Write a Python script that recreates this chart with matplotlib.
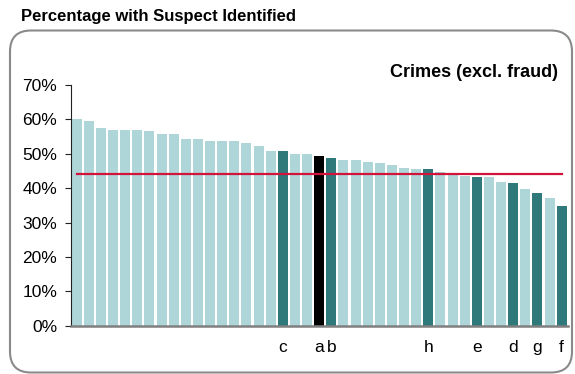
import matplotlib
matplotlib.use("Agg")
import matplotlib.pyplot as plt
import numpy as np
from matplotlib.patches import FancyBboxPatch
from matplotlib.ticker import FuncFormatter

plt.rcParams["font.family"] = ["Liberation Sans", "DejaVu Sans"]

# values (%), sorted descending, one per force
values = [60.2, 59.6, 57.4, 57.0, 56.8, 56.8, 56.6, 55.7, 55.7, 54.4,
          54.4, 53.8, 53.8, 53.8, 53.1, 52.3, 50.9, 50.9, 50.0, 50.0,
          49.2, 48.8, 48.3, 48.1, 47.7, 47.4, 46.8, 45.8, 45.5, 45.5,
          44.6, 44.0, 43.6, 43.2, 43.1, 41.7, 41.4, 39.7, 38.6, 37.1,
          34.7]
# highlighted bars: index -> label
labels = {17: "c", 20: "a", 21: "b", 29: "h", 33: "e", 36: "d", 38: "g", 40: "f"}
black_bar = 20
average = 44.2

LIGHT = "#aed5d8"
DARK = "#2f797a"
RED = "#d2143c"

colors = []
for i in range(len(values)):
    if i == black_bar:
        colors.append("black")
    elif i in labels:
        colors.append(DARK)
    else:
        colors.append(LIGHT)

fig = plt.figure(figsize=(5.75, 3.74), dpi=100)
ax = fig.add_axes([0.1235, 0.129, 0.8645, 0.644])

x = np.arange(len(values))
ax.bar(x, values, width=0.82, color=colors, zorder=2)
ax.plot([x[0], x[-1]], [average, average], color=RED, lw=1.6, zorder=3)

ax.set_xlim(-0.47, len(values) - 0.47)
ax.set_ylim(0, 70)
ax.set_yticks(np.arange(0, 71, 10))
ax.yaxis.set_major_formatter(FuncFormatter(lambda v, p: f"{v:.0f}%"))
ax.tick_params(axis="y", direction="out", length=4, width=0.8, labelsize=12.5,
               pad=6, colors="#222222")
ax.tick_params(axis="y", labelcolor="black")

pos = sorted(labels)
ax.set_xticks(pos)
ax.set_xticklabels([labels[p] for p in pos])
ax.tick_params(axis="x", length=0, labelsize=12.5, pad=10)

for s in ("top", "right"):
    ax.spines[s].set_visible(False)
ax.spines["left"].set_color("#222222")
ax.spines["left"].set_linewidth(0.8)
ax.spines["bottom"].set_color("#808080")
ax.spines["bottom"].set_linewidth(1.8)

fig.text(0.97, 0.805, "Crimes (excl. fraud)", ha="right", va="center",
         fontsize=13, fontweight="bold")

fig.text(0.037, 0.955, "Percentage with Suspect Identified", ha="left",
         va="center", fontsize=12, fontweight="bold")

# rounded frame around the chart
frame = FancyBboxPatch((0.10, 0.015), 5.62, 3.42,
                       boxstyle="round,pad=0,rounding_size=0.21",
                       transform=fig.dpi_scale_trans, fill=False,
                       edgecolor="#8a8a8a", lw=1.5, zorder=0)
fig.patches.append(frame)

fig.savefig("out.png", dpi=100)
